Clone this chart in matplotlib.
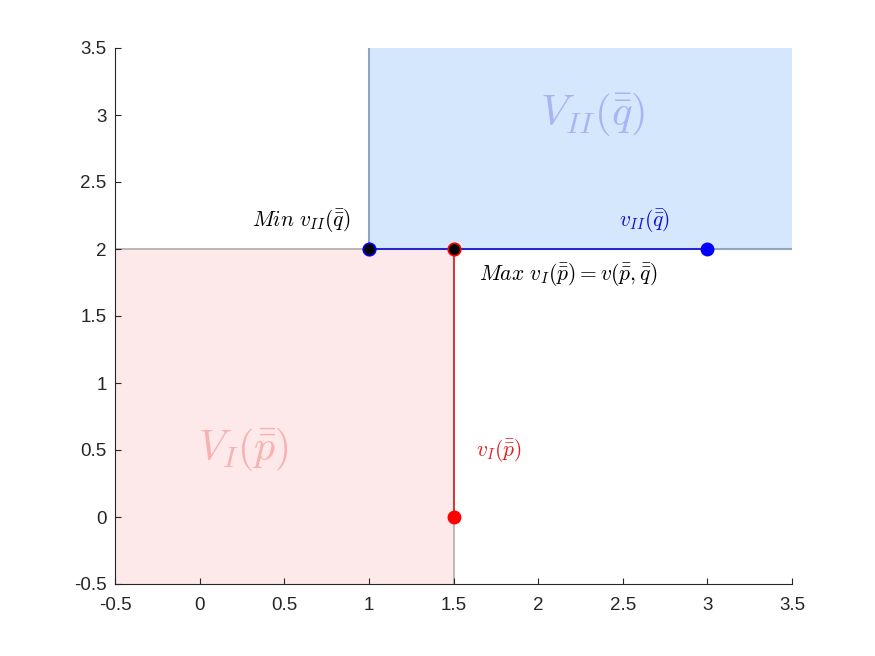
import matplotlib
matplotlib.use('Agg')
import matplotlib.pyplot as plt
from matplotlib.patches import Rectangle

plt.rc('font', family='Liberation Sans', size=13.5)
plt.rc('mathtext', fontset='cm')

# regions
VI_x = [-0.5, 1.5]
VI_y = [-0.5, 2.0]
VII_x = [1.0, 3.5]
VII_y = [2.0, 3.5]

# best response lines
vI_x = [1.5, 1.5]
vI_y = [0.0, 2.0]
vII_x = [1.0, 3.0]
vII_y = [2.0, 2.0]

xticks = [-0.5, 0, 0.5, 1, 1.5, 2, 2.5, 3, 3.5]
yticks = [-0.5, 0, 0.5, 1, 1.5, 2, 2.5, 3, 3.5]
xtick_labels = ['-0.5', '0', '0.5', '1', '1.5', '2', '2.5', '3', '3.5']
ytick_labels = ['-0.5', '0', '0.5', '1', '1.5', '2', '2.5', '3', '3.5']

fig = plt.figure(figsize=(8.75, 6.56), dpi=100)
ax = fig.add_axes([115/875, 1-584/656, (792-115)/875, (584-48)/656])

# filled regions, no edge; visible edges drawn as lines
ax.add_patch(Rectangle((VI_x[0], VI_y[0]), VI_x[1]-VI_x[0], VI_y[1]-VI_y[0],
                       facecolor='#fde9ea', edgecolor='none', zorder=1))
ax.add_patch(Rectangle((VII_x[0], VII_y[0]), VII_x[1]-VII_x[0], VII_y[1]-VII_y[0],
                       facecolor='#d4e7fd', edgecolor='none', zorder=1))
ax.plot([VI_x[0], VI_x[1], VI_x[1]], [VI_y[1], VI_y[1], VI_y[0]], color='#b4aaaa', lw=1.2, zorder=1.5)
ax.plot([VII_x[1], VII_x[0], VII_x[0]], [VII_y[0], VII_y[0], VII_y[1]], color='#8ea6c0', lw=1.5, zorder=1.5)

ax.plot(vI_x, vI_y, color='#e02020', lw=1.2, zorder=2)
ax.plot(vII_x, vII_y, color='#1010d0', lw=1.2, zorder=2)

ms = 9
ax.plot(vI_x[0], vI_y[0], 'o', color='red', ms=ms, zorder=3)
ax.plot(vII_x[1], vII_y[1], 'o', color='blue', ms=ms, zorder=3)
ax.plot(vII_x[0], vII_y[0], 'o', mfc='black', mec='blue', mew=1.2, ms=ms, zorder=4)
ax.plot(vI_x[1], vI_y[1], 'o', mfc='black', mec='red', mew=1.2, ms=ms, zorder=4)

ax.text(0.6, 2.21, r'$Min\ v_{II}(\bar{\bar{q}})$', fontsize=15.5, ha='center', va='center')
ax.text(2.63, 2.21, r'$v_{II}(\bar{\bar{q}})$', fontsize=15.5, color='#1010d0', ha='center', va='center')
ax.text(2.18, 1.81, r'$Max\ v_{I}(\bar{\bar{p}}) = v(\bar{\bar{p}},\bar{\bar{q}})$', fontsize=15.5,
        ha='center', va='center')
ax.text(1.77, 0.5, r'$v_{I}(\bar{\bar{p}})$', fontsize=15.5, color='#e02020', ha='center', va='center')
ax.text(0.26, 0.5, r'$V_{I}(\bar{\bar{p}})$', fontsize=30, color='#f8b0b0', ha='center', va='center')
ax.text(2.32, 3.0, r'$V_{II}(\bar{\bar{q}})$', fontsize=31, color='#a8b4f4', ha='center', va='center')

ax.set_xlim(-0.5, 3.5)
ax.set_ylim(-0.5, 3.5)
ax.set_xticks(xticks)
ax.set_xticklabels(xtick_labels)
ax.set_yticks(yticks)
ax.set_yticklabels(ytick_labels)
ax.spines['top'].set_visible(False)
ax.spines['right'].set_visible(False)
for s in ['left', 'bottom']:
    ax.spines[s].set_color('#262626')
ax.tick_params(direction='in', length=4, color='#262626', labelcolor='#262626')
ax.tick_params(axis='x', pad=9)
ax.tick_params(axis='y', pad=6)

fig.savefig('out.png', dpi=100)
